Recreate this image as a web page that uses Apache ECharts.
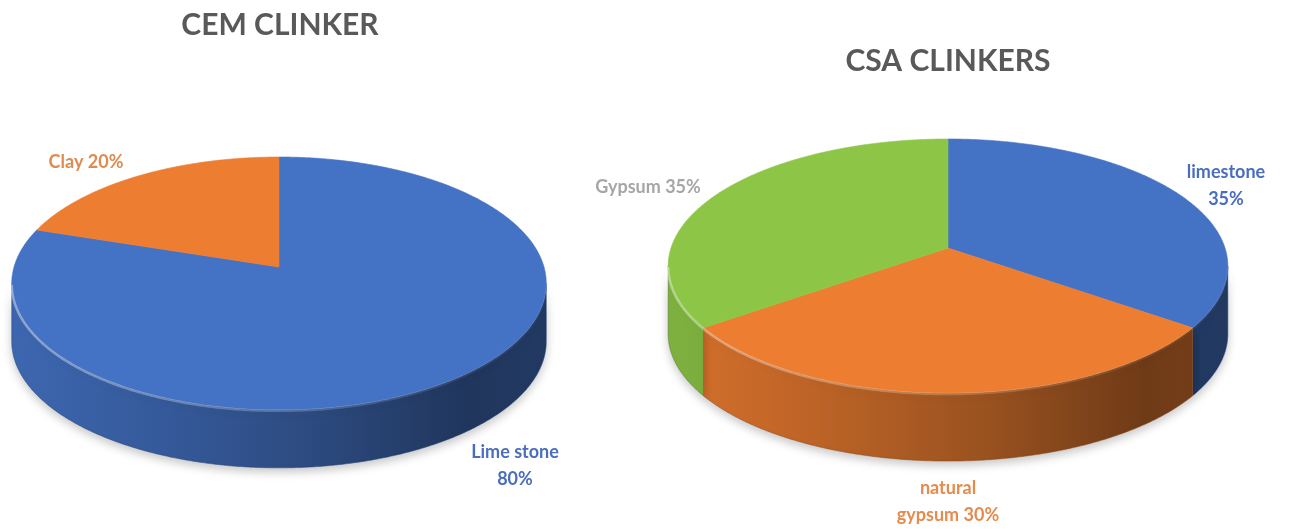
<!DOCTYPE html>
<html>
<head>
<meta charset="utf-8">
<script src="https://cdn.jsdelivr.net/npm/echarts@6/dist/echarts.min.js"></script>
<style>
  html, body { margin: 0; padding: 0; background: #ffffff; }
  #chart { width: 1303px; height: 529px; }
</style>
</head>
<body>
<div id="chart"></div>
<script>
// Raw-meal composition, CEM clinker
const cemNames = ['Lime stone', 'Clay'];
const cemValues = [80, 20];

// Raw-meal composition, CSA clinkers
const csaNames = ['limestone', 'natural gypsum', 'Gypsum'];
const csaValues = [35, 30, 35];

const chartTitles = ['CEM CLINKER', 'CSA CLINKERS'];

const pieData = [
  { names: cemNames, values: cemValues },
  { names: csaNames, values: csaValues }
];

// Drawing layout for each tilted pie: projected centre, radii, perspective, thickness
const layout = [
  {
    cx: 279, cy: 267, A: 265, B: 124.3, e: 0.13, h: 58,
    title: { x: 280, y: 25 },
    colors: ['#4472C4', '#ED7D31'],
    labelColors: ['#4A6DBE', '#DF8A4F'],
    labels: [
      { x: 515, y: 466, mode: 'stack' },
      { x: 86, y: 162, mode: 'inline' }
    ]
  },
  {
    cx: 948, cy: 248, A: 277, B: 124.5, e: 0.142, h: 68,
    title: { x: 948, y: 61 },
    colors: ['#4472C4', '#ED7D31', '#8DC647'],
    labelColors: ['#4A6DBE', '#E58B4D', '#A6A6A6'],
    labels: [
      { x: 1226, y: 186, mode: 'stack' },
      { x: 948, y: 502, mode: 'wrapName' },
      { x: 648, y: 187, mode: 'inline' }
    ]
  }
];

const TWO_PI = Math.PI * 2;

// Perspective projection of a point on the pie disc.
// theta: angle clockwise from 12 o'clock, k: radius fraction, dy: drop for the lower face
function proj(p, theta, k, dy) {
  const s = Math.sin(theta), c = Math.cos(theta);
  const w = 1 + p.e * c * k;
  return [p.cx + p.A * k * s / w, p.cy + dy - p.B * k * c / w];
}

function sliceAngles(pi, si) {
  const vals = pieData[pi].values;
  const total = vals.reduce((a, b) => a + b, 0);
  let before = 0;
  for (let i = 0; i < si; i++) before += vals[i];
  return [before / total * TWO_PI, (before + vals[si]) / total * TWO_PI];
}

function shade(hex, f) {
  const n = parseInt(hex.slice(1), 16);
  const r = Math.round(((n >> 16) & 255) * f);
  const g = Math.round(((n >> 8) & 255) * f);
  const b = Math.round((n & 255) * f);
  return 'rgb(' + r + ',' + g + ',' + b + ')';
}

function arcPoints(p, a0, a1, dy) {
  const pts = [];
  const n = Math.max(2, Math.ceil((a1 - a0) / (Math.PI / 360)));
  for (let i = 0; i <= n; i++) pts.push(proj(p, a0 + (a1 - a0) * i / n, 1, dy));
  return pts;
}

function labelText(name, value, mode) {
  if (mode === 'stack') return name + '\n' + value + '%';
  if (mode === 'wrapName') return name.replace(' ', '\n') + ' ' + value + '%';
  return name + ' ' + value + '%';
}

// Outer walls (front half only)
function renderWall(params, api) {
  const pi = api.value(0), si = api.value(1);
  const p = layout[pi];
  const [a0, a1] = sliceAngles(pi, si);
  const lo = Math.acos(-p.e), hi = TWO_PI - lo;
  const s0 = Math.max(a0, lo), s1 = Math.min(a1, hi);
  if (s1 <= s0) return { type: 'group', children: [] };
  const top = arcPoints(p, s0, s1, 0);
  const bot = arcPoints(p, s0, s1, p.h).reverse();
  const base = p.colors[si];
  const left = p.cx - p.A * 1.01, right = p.cx + p.A * 1.01;
  return {
    type: 'group',
    children: [{
      type: 'polygon',
      shape: { points: top.concat(bot) },
      style: {
        fill: {
          type: 'linear', x: left, y: 0, x2: right, y2: 0, global: true,
          colorStops: [
            { offset: 0, color: shade(base, 0.9) },
            { offset: 0.25, color: shade(base, 0.8) },
            { offset: 0.55, color: shade(base, 0.66) },
            { offset: 0.85, color: shade(base, 0.47) },
            { offset: 1, color: shade(base, 0.5) }
          ]
        },
        stroke: shade(base, 0.6),
        lineWidth: 0.5,
        shadowBlur: 10,
        shadowColor: 'rgba(0,0,0,0.22)',
        shadowOffsetY: 4
      }
    }]
  };
}

// Top faces, rim highlight and slice labels
function renderTop(params, api) {
  const pi = api.value(0), si = api.value(1);
  const p = layout[pi];
  const [a0, a1] = sliceAngles(pi, si);
  const base = p.colors[si];
  const pts = [proj(p, 0, 0, 0)].concat(arcPoints(p, a0, a1, 0));
  const children = [{
    type: 'polygon',
    shape: { points: pts },
    style: { fill: base, stroke: base, lineWidth: 0.6 }
  }];
  const lo = Math.acos(-p.e), hi = TWO_PI - lo;
  const s0 = Math.max(a0, lo), s1 = Math.min(a1, hi);
  if (s1 > s0) {
    const left = p.cx - p.A, right = p.cx + p.A;
    children.push({
      type: 'polyline',
      shape: { points: arcPoints(p, s0, s1, 1) },
      style: {
        fill: null,
        lineWidth: 2.5,
        stroke: {
          type: 'linear', x: left, y: 0, x2: right, y2: 0, global: true,
          colorStops: [
            { offset: 0, color: 'rgba(255,255,255,0.4)' },
            { offset: 0.5, color: 'rgba(255,255,255,0.2)' },
            { offset: 1, color: 'rgba(255,255,255,0.04)' }
          ]
        }
      }
    });
  }
  const lab = p.labels[si];
  children.push({
    type: 'text',
    style: {
      text: labelText(pieData[pi].names[si], pieData[pi].values[si], lab.mode),
      x: lab.x, y: lab.y,
      fill: p.labelColors[si],
      font: 'bold 18px Lato',
      lineHeight: 27,
      align: 'center',
      verticalAlign: 'middle'
    }
  });
  return { type: 'group', children: children };
}

const sliceRows = [];
pieData.forEach((pd, pi) => pd.values.forEach((v, si) => sliceRows.push([pi, si, v])));

const chart = echarts.init(document.getElementById('chart'), null, { renderer: 'canvas' });
chart.setOption({
  backgroundColor: '#ffffff',
  animation: false,
  graphic: chartTitles.map((t, i) => ({
    type: 'text',
    x: layout[i].title.x,
    y: layout[i].title.y,
    style: {
      text: t,
      font: 'bold 30px Lato',
      fill: '#595959',
      align: 'center',
      verticalAlign: 'middle'
    }
  })),
  series: [
    { type: 'custom', coordinateSystem: 'none', z: 1, renderItem: renderWall, data: sliceRows, silent: true },
    { type: 'custom', coordinateSystem: 'none', z: 2, renderItem: renderTop, data: sliceRows, silent: true }
  ]
});
</script>
</body>
</html>
